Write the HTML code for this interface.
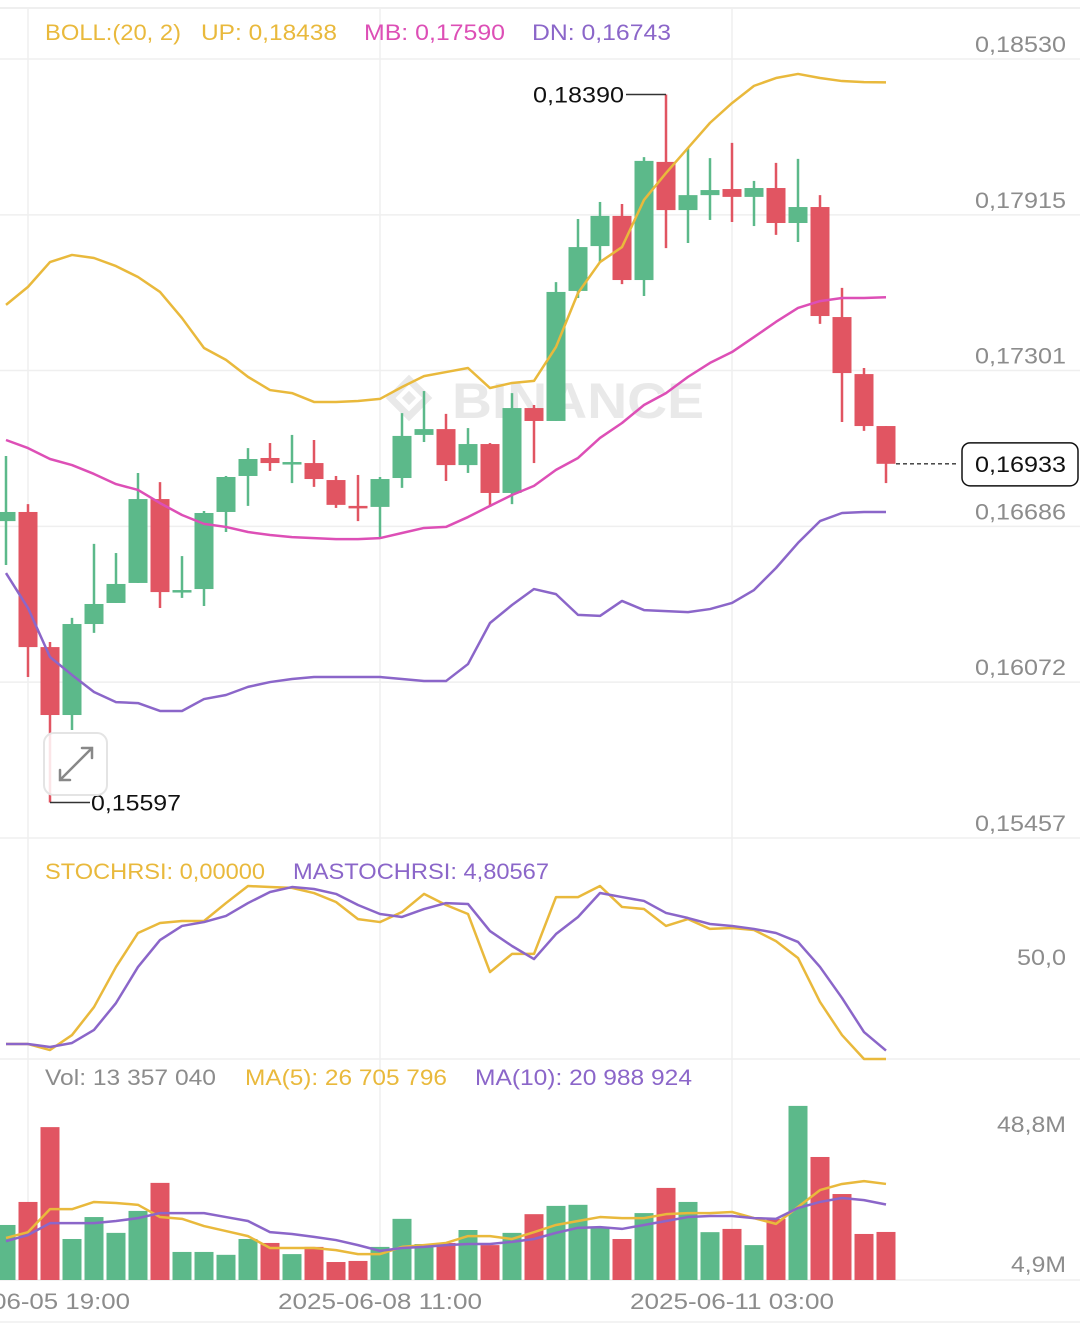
<!DOCTYPE html>
<html><head><meta charset="utf-8">
<style>
html,body{margin:0;padding:0;background:#fff;}
body{width:1080px;height:1333px;overflow:hidden;position:relative;font-family:"Liberation Sans",sans-serif;}
svg{position:absolute;left:0;top:0;}
</style></head>
<body>
<svg id="chart" width="1080" height="1333" xmlns="http://www.w3.org/2000/svg"></svg>
<script>
const opens  = [0.16707,0.16743,0.16210,0.15942,0.16301,0.16384,0.16463,0.16794,0.16427,0.16439,0.16743,0.16885,0.16956,0.16932,0.16936,0.16869,0.16767,0.16763,0.16877,0.17047,0.17070,0.16928,0.17011,0.16818,0.17153,0.17102,0.17615,0.17792,0.17911,0.17658,0.18124,0.17934,0.17993,0.18017,0.17986,0.18021,0.17883,0.17946,0.17512,0.17287,0.17082];
const closes = [0.16743,0.16210,0.15942,0.16301,0.16380,0.16459,0.16794,0.16427,0.16435,0.16739,0.16881,0.16952,0.16936,0.16940,0.16873,0.16771,0.16759,0.16873,0.17043,0.17070,0.16928,0.17011,0.16818,0.17153,0.17102,0.17611,0.17788,0.17911,0.17658,0.18128,0.17934,0.17993,0.18013,0.17986,0.18021,0.17883,0.17946,0.17516,0.17291,0.17082,0.16933];
const highs  = [0.16964,0.16774,0.16230,0.16325,0.16617,0.16581,0.16897,0.16861,0.16569,0.16747,0.16885,0.16995,0.17015,0.17047,0.17027,0.16885,0.16889,0.16881,0.17133,0.17220,0.17130,0.17074,0.17015,0.17212,0.17165,0.17650,0.17899,0.17966,0.17958,0.18143,0.18390,0.18179,0.18139,0.18199,0.18049,0.18120,0.18136,0.17993,0.17627,0.17311,0.17082];
const lows   = [0.16534,0.16092,0.15597,0.15883,0.16266,0.16384,0.16463,0.16364,0.16404,0.16372,0.16664,0.16767,0.16905,0.16857,0.16842,0.16759,0.16707,0.16640,0.16838,0.17019,0.16865,0.16897,0.16763,0.16774,0.16936,0.17102,0.17587,0.17729,0.17642,0.17595,0.17784,0.17804,0.17895,0.17887,0.17871,0.17836,0.17808,0.17485,0.17098,0.17063,0.16857];
const bollUp = [0.17560,0.17631,0.17729,0.17757,0.17745,0.17713,0.17670,0.17611,0.17508,0.17390,0.17343,0.17276,0.17224,0.17212,0.17177,0.17177,0.17181,0.17189,0.17236,0.17279,0.17295,0.17311,0.17232,0.17252,0.17260,0.17394,0.17607,0.17729,0.17788,0.17974,0.18080,0.18179,0.18278,0.18356,0.18424,0.18455,0.18471,0.18455,0.18443,0.18439,0.18438];
const bollMb = [0.17027,0.16995,0.16952,0.16928,0.16893,0.16853,0.16830,0.16778,0.16731,0.16696,0.16684,0.16664,0.16652,0.16644,0.16640,0.16636,0.16636,0.16640,0.16660,0.16680,0.16684,0.16723,0.16767,0.16810,0.16846,0.16909,0.16956,0.17035,0.17094,0.17165,0.17212,0.17276,0.17331,0.17374,0.17433,0.17493,0.17548,0.17575,0.17587,0.17587,0.17590];
const bollDn = [0.16502,0.16364,0.16171,0.16100,0.16033,0.15993,0.15989,0.15958,0.15958,0.16005,0.16021,0.16053,0.16072,0.16084,0.16092,0.16092,0.16092,0.16092,0.16084,0.16076,0.16076,0.16143,0.16305,0.16376,0.16439,0.16419,0.16337,0.16333,0.16392,0.16356,0.16352,0.16348,0.16360,0.16384,0.16435,0.16522,0.16621,0.16707,0.16739,0.16743,0.16743];
const stochK = [8.5,8.5,5.1,13.6,29.5,52.3,71.6,77.3,78.4,78.4,88.6,98.3,97.7,97.2,94.3,89.2,79.5,77.8,83.5,93.8,87.5,82.4,49.4,59.7,59.7,92.0,92.0,98.3,86.4,85.2,75.6,79.5,73.9,74.4,73.3,67.0,57.4,32.4,13.6,0,0];
const stochD = [8.5,8.5,6.8,9.1,16.5,31.8,52.3,67.6,75.6,77.8,81.3,88.6,94.9,97.7,96.6,93.8,87.5,82.4,80.7,85.2,88.6,88.1,72.7,64.2,56.8,71.0,80.7,94.3,92.0,89.8,83.0,80.1,76.7,75.6,73.9,71.6,66.5,52.3,34.7,15.3,4.80567];
const volumes = [15.3,21.7,42.5,11.4,17.5,13.1,19.2,27.0,7.8,7.8,7.0,11.4,10.3,7.2,9.2,5.0,5.3,9.2,17.0,10.0,10.3,13.9,9.7,13.1,18.3,20.6,20.9,14.5,11.4,18.6,25.6,21.7,13.3,14.2,9.7,17.0,48.4,34.2,23.9,12.8,13.357];
const volMa5 = [11.7,13.3,19.7,19.7,21.7,21.4,20.9,17.5,17.0,15.0,13.6,12.2,8.9,8.9,8.9,8.3,7.2,7.2,9.2,9.7,10.3,12.2,12.2,11.4,13.3,15.3,16.4,17.5,17.2,17.2,18.3,18.6,18.6,18.9,17.2,15.6,20.3,25.0,26.7,27.5,26.706];
const volMa10 = [10.8,12.5,15.8,15.8,15.8,16.4,17.2,18.6,18.6,18.6,17.5,16.4,13.3,12.8,12.0,11.1,9.7,8.1,8.9,9.2,9.7,10.0,10.0,10.6,11.4,13.1,14.5,14.7,14.2,15.3,16.4,17.5,17.8,17.8,17.2,17.0,20.0,21.7,22.8,22.2,20.989];
const priceTicks = [0.18530,0.17915,0.17301,0.16686,0.16072,0.15457];
const priceTickLabels = ["0,18530","0,17915","0,17301","0,16686","0,16072","0,15457"];
const dateIdx = [1,17,33];
const dateLabels = ["2025-06-05 19:00","2025-06-08 11:00","2025-06-11 03:00"];

const GREEN="#5cb98a", RED="#e15562", YEL="#e9b93c", PINK="#dd4fb6", PUR="#8b66c9", GRID="#efefef", AX="#8c8c8c";
const X = i => 6 + 22*i;
const Y = v => 59 + (0.18530 - v)/0.00003945;
const YS = v => 1059 - v*1.76;
const YV = v => 1280 - v/0.278;
const svg = document.getElementById('chart');
const NS = "http://www.w3.org/2000/svg";
function mk(tag, attrs, parent){const e=document.createElementNS(NS,tag);for(const k in attrs)e.setAttribute(k,attrs[k]);(parent||svg).appendChild(e);return e;}
function txt(s, attrs, w){const e=mk('text',attrs);e.textContent=s;if(w){e.setAttribute('textLength',w);e.setAttribute('lengthAdjust','spacingAndGlyphs');}return e;}

// grid
mk('line',{x1:0,x2:1080,y1:8,y2:8,stroke:GRID,'stroke-width':2});
priceTicks.forEach((t,i)=>{
  const g=mk('line',{x1:0,x2:1080,y1:Y(t),y2:Y(t),stroke:GRID,'stroke-width':1.5});
  
  
  const l=txt(priceTickLabels[i],{x:1066,y:Y(t)-7,'text-anchor':'end','font-size':22,fill:AX},91);
  
  
});
mk('line',{x1:0,x2:1080,y1:1059,y2:1059,stroke:GRID,'stroke-width':1.5});
mk('line',{x1:0,x2:1080,y1:1280,y2:1280,stroke:GRID,'stroke-width':1.5});
mk('line',{x1:0,x2:1080,y1:1322,y2:1322,stroke:GRID,'stroke-width':1.5});
dateIdx.forEach((d,i)=>{
  mk('line',{x1:X(d),x2:X(d),y1:8,y2:1280,stroke:GRID,'stroke-width':1.5});
  const l=txt(dateLabels[i],{x:X(d),y:1309,'text-anchor':'middle','font-size':22,fill:AX},204);
  
  
});
txt("50,0",{x:1066,y:965,'text-anchor':'end','font-size':22,fill:AX},49);
txt("48,8M",{x:1066,y:1132,'text-anchor':'end','font-size':22,fill:AX},69);
txt("4,9M",{x:1066,y:1272,'text-anchor':'end','font-size':22,fill:AX},55);

// watermark
const wm=mk('g',{opacity:0.55});


mk('rect',{x:396,y:385,width:26,height:26,fill:'none',stroke:'#d8d8d8','stroke-width':7,transform:'rotate(45 409 398)'},wm);
mk('rect',{x:404,y:393,width:10,height:10,fill:'#d8d8d8',transform:'rotate(45 409 398)'},wm);
const wt=mk('text',{x:452,y:418,'font-size':50,'font-weight':'bold',fill:'#d8d8d8',textLength:252,lengthAdjust:'spacingAndGlyphs'},wm);wt.textContent="BINANCE";

function poly(arr, yf, color, w, name){
  const p=mk('polyline',{points:arr.map((v,i)=>X(i)+','+yf(v)).join(' '),fill:'none',stroke:color,'stroke-width':w,'stroke-linejoin':'round'});
  
  
}

// candles
opens.forEach((o,i)=>{
  const c=closes[i], up=c>=o, col=up?GREEN:RED;
  const g=mk('g',{});
  
  
  mk('line',{x1:X(i),x2:X(i),y1:Y(highs[i]),y2:Y(lows[i]),stroke:col,'stroke-width':2.5},g);
  const top=Math.min(Y(o),Y(c)), h=Math.max(2.5,Math.abs(Y(o)-Y(c)));
  mk('rect',{x:X(i)-9.5,y:top,width:19,height:h,fill:col},g);
});
poly(bollUp,Y,YEL,2.5,'boll-upper-line');
poly(bollMb,Y,PINK,2.5,'boll-middle-line');
poly(bollDn,Y,PUR,2.5,'boll-lower-line');

// high/low markers
const hi=30, lo=2;
mk('polyline',{points:`626,${Y(highs[hi])} ${X(hi)},${Y(highs[hi])}`,fill:'none',stroke:'#333','stroke-width':1.5});
txt("0,18390",{x:533,y:Y(highs[hi])+8,'font-size':22,fill:'#111'},91);
mk('polyline',{points:`${X(lo)},${Y(lows[lo])} 90,${Y(lows[lo])}`,fill:'none',stroke:'#333','stroke-width':1.5});
txt("0,15597",{x:91,y:Y(lows[lo])+8,'font-size':22,fill:'#111'},90);

// current price
const lastY=Y(closes[40]);
mk('line',{x1:896,x2:958,y1:lastY,y2:lastY,stroke:'#333','stroke-width':1.3,'stroke-dasharray':'4,3'});
const cp=mk('rect',{x:962,y:lastY-21,width:116,height:43,rx:8,fill:'#fff',stroke:'#111','stroke-width':1.5});


txt("0,16933",{x:975,y:lastY+8,'font-size':22,fill:'#111'},91);

// expand button
const eb=mk('g',{});


mk('rect',{x:44,y:733,width:63,height:62,rx:10,fill:'#fff','fill-opacity':0.85,stroke:'#e4e4e4','stroke-width':2},eb);
mk('path',{d:'M60 780 L92 748 M82 748 L92 748 L92 758 M60 770 L60 780 L70 780',fill:'none',stroke:'#888','stroke-width':2.5,'stroke-linecap':'round'},eb);

// legends
function legend(parts,y,name){
  parts.forEach(p=>{const t=txt(p[0],{x:p[1],y:y,'font-size':22,fill:p[2]},p[3]);
    
    });
}
legend([["BOLL:(20, 2)",45,YEL,136],["UP: 0,18438",201,YEL,136],["MB: 0,17590",364,PINK,141],["DN: 0,16743",532,PUR,139]],40,'boll-legend');
legend([["STOCHRSI: 0,00000",45,YEL,220],["MASTOCHRSI: 4,80567",293,PUR,256]],879,'stochrsi-legend');
legend([["Vol: 13 357 040",45,AX,171],["MA(5): 26 705 796",245,YEL,202],["MA(10): 20 988 924",475,PUR,217]],1085,'volume-legend');

// stoch
poly(stochK,YS,YEL,2.5,'stochrsi-line');
poly(stochD,YS,PUR,2.5,'mastochrsi-line');

// volume
volumes.forEach((v,i)=>{
  const col=closes[i]>=opens[i]?GREEN:RED;
  const b=mk('rect',{x:X(i)-9.5,y:YV(v),width:19,height:1280-YV(v),fill:col});
  
  
});
poly(volMa5,YV,YEL,2.5,'volume-ma5-line');
poly(volMa10,YV,PUR,2.5,'volume-ma10-line');
</script>
</body></html>
